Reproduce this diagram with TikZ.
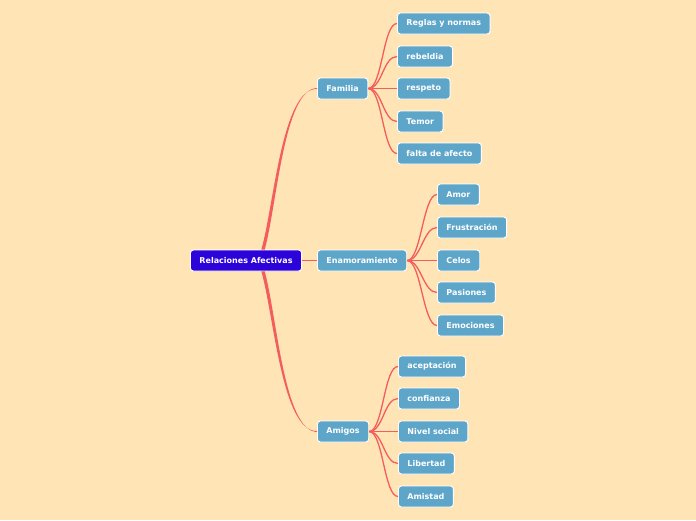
\documentclass[tikz,border=0pt]{standalone}
\usepackage{fontspec}
\setmainfont{DejaVu Sans}
\begin{document}
\begin{tikzpicture}[x=1pt,y=-1pt,
  box/.style={draw=white,line width=0.9pt,fill=boxblue,rounded corners=3pt,
    text=white,font=\bfseries\fontsize{8}{9}\selectfont,minimum height=21pt,
    inner xsep=9pt,inner ysep=0pt,anchor=west},
  rootbox/.style={box,fill=rootblue},
  link/.style={draw=linkred,line width=1.3pt},
  thin/.style={draw=linkred,line width=0.8pt}]
\definecolor{bg}{HTML}{FFE5B6}
\definecolor{boxblue}{HTML}{5EA6C9}
\definecolor{rootblue}{HTML}{2C04DA}
\definecolor{linkred}{HTML}{F45D5D}
\fill[bg] (0,0) rectangle (696,520);
\useasboundingbox (0,0) rectangle (696,520);

\node[rootbox] (root) at (190,260.5) {Relaciones Afectivas};
\node[box] (fam) at (317,88.5) {Familia};
\node[box] (ena) at (317,260.5) {Enamoramiento};
\node[box] (ami) at (317,431.5) {Amigos};

\node[box] (f1) at (397,23.5) {Reglas y normas};
\node[box] (f2) at (397,56.5) {rebeldia};
\node[box] (f3) at (397,88.5) {respeto};
\node[box] (f4) at (397,121.5) {Temor};
\node[box] (f5) at (397,153.5) {falta de afecto};

\node[box] (e1) at (437,194.5) {Amor};
\node[box] (e2) at (437,227.5) {Frustración};
\node[box] (e3) at (437,260.5) {Celos};
\node[box] (e4) at (437,292.5) {Pasiones};
\node[box] (e5) at (437,325.5) {Emociones};

\node[box] (a1) at (398,366.5) {aceptación};
\node[box] (a2) at (398,398.5) {confianza};
\node[box] (a3) at (398,431.5) {Nivel social};
\node[box] (a4) at (398,463.5) {Libertad};
\node[box] (a5) at (398,496.5) {Amistad};

% root to main branches (tapered)
\coordinate (rt) at ([xshift=-39pt]root.north east);
\coordinate (rb) at ([xshift=-39pt]root.south east);
\fill[linkred] ([xshift=-1.7pt]rt) .. controls (274,205) and (282,88) .. ([yshift=-0.5pt]fam.west)
   -- ([yshift=0.5pt]fam.west) .. controls (284,89) and (277,205) .. ([xshift=1.7pt]rt) -- cycle;
\fill[linkred] ([xshift=-1.7pt]rb) .. controls (274,316) and (282,432) .. ([yshift=0.5pt]ami.west)
   -- ([yshift=-0.5pt]ami.west) .. controls (284,431) and (277,316) .. ([xshift=1.7pt]rb) -- cycle;
\draw[thin] (root.east) -- (ena.west);

% children
\foreach \c in {f1,f2,f3,f4,f5}
  \draw[link] (fam.east) .. controls ([xshift=14pt]fam.east) and ([xshift=-14pt]\c.west) .. (\c.west);
\foreach \c in {e1,e2,e3,e4,e5}
  \draw[link] (ena.east) .. controls ([xshift=14pt]ena.east) and ([xshift=-14pt]\c.west) .. (\c.west);
\foreach \c in {a1,a2,a3,a4,a5}
  \draw[link] (ami.east) .. controls ([xshift=14pt]ami.east) and ([xshift=-14pt]\c.west) .. (\c.west);
\end{tikzpicture}
\end{document}
